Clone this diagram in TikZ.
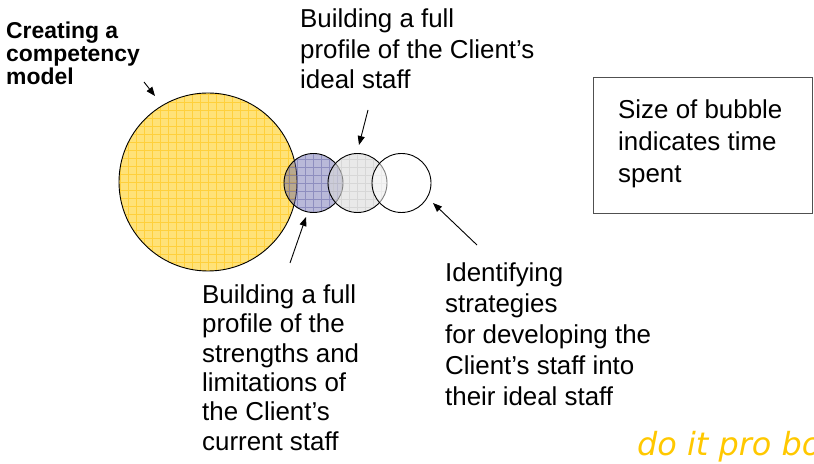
\documentclass[tikz,border=0pt]{standalone}
\usepackage{fontspec}
\setmainfont{Liberation Sans}
\newfontfamily\pbfont{DejaVu Sans}
\usetikzlibrary{arrows.meta}
\definecolor{ylwbase}{RGB}{255,226,120}
\definecolor{ylwline}{RGB}{255,208,60}
\definecolor{blubase}{RGB}{100,100,170}
\definecolor{bluline}{RGB}{90,90,160}
\definecolor{grybase}{RGB}{218,218,218}
\definecolor{gryline}{RGB}{190,190,190}
\definecolor{probono}{RGB}{255,200,0}
\definecolor{boxline}{RGB}{80,80,80}
\begin{document}
\begin{tikzpicture}[x=1bp,y=-1bp,
  lbl/.style={anchor=base west, inner sep=0, align=left},
  arr/.style={-{Triangle[length=9bp,width=7bp]}, line width=0.9bp},
  bub/.style={circle, draw=black, line width=0.9bp, inner sep=0, minimum size=59bp},
  gridlines/.style={line width=0.9bp}]
\useasboundingbox (0,0) rectangle (814,464);

% bubbles
\node[bub, minimum size=178bp, fill=ylwbase,
  path picture={\draw[gridlines, ylwline]
    ([shift={(-4bp,-4bp)}]path picture bounding box.south west) grid[step=8bp]
    (path picture bounding box.north east);}] (yel) at (208,182) {};
\node[bub, fill=blubase, fill opacity=0.45,
  path picture={\draw[gridlines, bluline, draw opacity=0.45]
    (path picture bounding box.south west) grid[step=8bp]
    (path picture bounding box.north east);}] (blu) at (313.5,183) {};
\node[bub, fill=grybase, fill opacity=0.6,
  path picture={\draw[gridlines, gryline, draw opacity=0.4]
    (path picture bounding box.south west) grid[step=8bp]
    (path picture bounding box.north east);}] (gry) at (357.5,183) {};
\node[bub, fill=white, fill opacity=0.5] (wht) at (401.5,183) {};

% labels (anchored at the baseline of the last line)
\node[lbl, font=\bfseries\fontsize{23}{23.5}\selectfont] (cm) at (6,85)
  {Creating a\\competency\\model};
\node[lbl, font=\fontsize{26}{31}\selectfont] (ideal) at (300,89)
  {Building a full\\profile of the Client’s\\ideal staff};
\node[lbl, font=\fontsize{26}{29.4}\selectfont] (curr) at (202,450)
  {Building a full\\profile of the\\strengths and\\limitations of\\the Client’s\\current staff};
\node[lbl, font=\fontsize{26}{31}\selectfont] (strat) at (445,405)
  {Identifying\\strategies\\for developing the\\Client’s staff into\\their ideal staff};

% legend box
\node[draw=boxline, line width=1bp, inner sep=0, anchor=north west,
  minimum width=219bp, minimum height=136bp] (box) at (593,77) {};
\node[lbl, font=\fontsize{26}{32.5}\selectfont] (legend) at (618,183)
  {Size of bubble\\indicates time\\spent};

% footer (cut off at the right edge, as in the reference)
\node[anchor=base west, inner sep=0, text=probono,
  font=\pbfont\itshape\fontsize{32}{32}\selectfont] (pb) at (637,455) {do it pro bono};

% arrows
\coordinate (a1s) at (144,82);  \coordinate (a1e) at (155,96);
\coordinate (a2s) at (368,110); \coordinate (a2e) at (359,145);
\coordinate (a3s) at (290,263); \coordinate (a3e) at (306,217);
\coordinate (a4s) at (477,245); \coordinate (a4e) at (433,203);
\draw[arr] (a1s) -- (a1e);
\draw[arr] (a2s) -- (a2e);
\draw[arr] (a3s) -- (a3e);
\draw[arr] (a4s) -- (a4e);
\end{tikzpicture}
\end{document}
